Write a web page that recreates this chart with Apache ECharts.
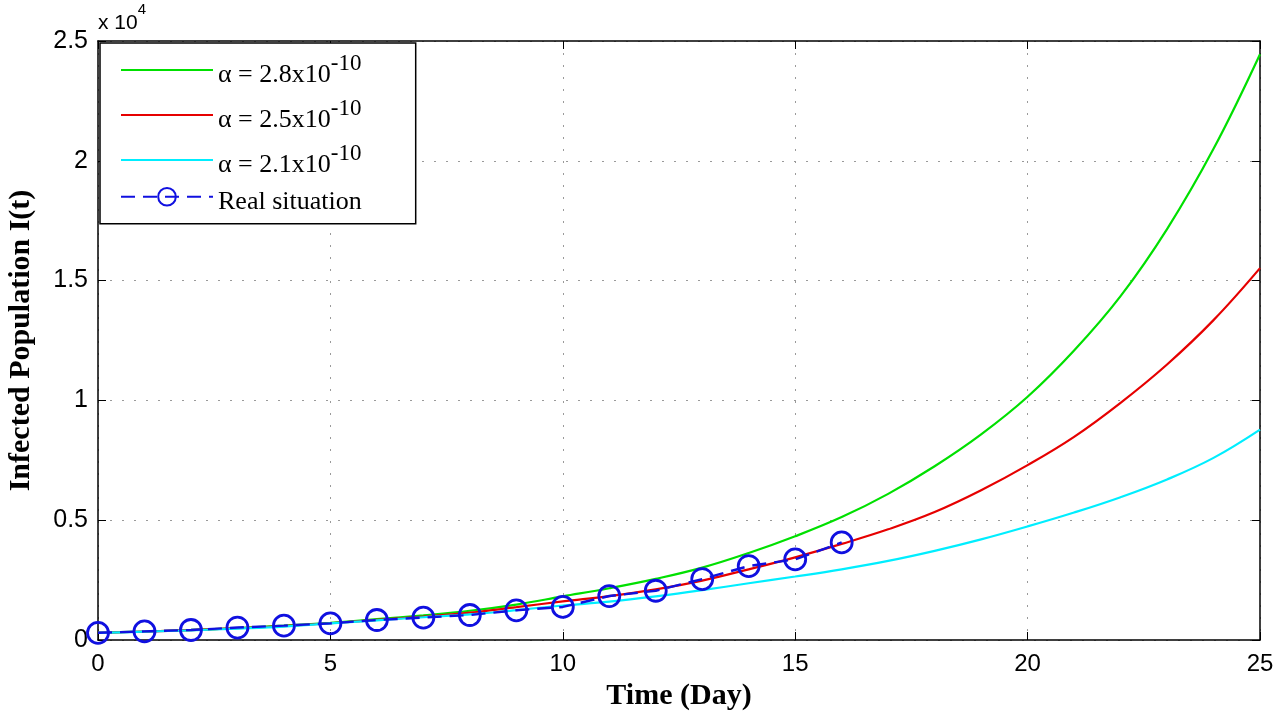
<!DOCTYPE html>
<html>
<head>
<meta charset="utf-8">
<script src="https://cdn.jsdelivr.net/npm/echarts@6/dist/echarts.min.js"></script>
<style>
html,body{margin:0;padding:0;background:#fff;}
#chart{width:1280px;height:715px;}
</style>
</head>
<body>
<div id="chart"></div>
<script>
// Days (x values)
const days = [0,1,2,3,4,5,6,7,8,9,10,11,12,13,14,15,16,17,18,19,20,21,22,23,24,25];
// Model curves (infected population)
const alpha28 = [300,355,420,500,600,720,870,1030,1220,1480,1820,2160,2550,3020,3630,4330,5130,6100,7250,8580,10150,12080,14350,17150,20500,24450];
const alpha25 = [300,352,415,490,580,700,840,980,1140,1370,1610,1830,2110,2480,2950,3450,4010,4620,5340,6250,7300,8480,9900,11500,13350,15520];
const alpha21 = [300,348,405,475,560,690,820,950,1070,1250,1440,1600,1820,2080,2370,2650,2950,3300,3720,4200,4740,5320,5960,6700,7600,8780];
// Real situation
const realDays = [0,1,2,3,4,5,6,7,8,9,10,11,12,13,14,15,16];
const realValues = [300,360,417,520,598,696,834,935,1043,1240,1380,1835,2056,2544,3086,3365,4074];
// Tick labels
const xTicks = [0,5,10,15,20,25];
const yTickLabels = ['0','0.5','1','1.5','2','2.5'];
const seriesNames = ['a28','a25','a21','Real situation'];
const legendLabels = {
  a28: '{t|α = 2.8x10}{s|-10}',
  a25: '{t|α = 2.5x10}{s|-10}',
  a21: '{t|α = 2.1x10}{s|-10}',
  'Real situation': '{t|Real situation}'
};

const pair = (xs, ys) => xs.map((x, i) => [x, ys[i]]);

const chart = echarts.init(document.getElementById('chart'), null, {renderer: 'canvas'});
const axisLineStyle = {color: '#000', width: 1.5};
const gridLine = {show: true, lineStyle: {color: '#9a9a9a', width: 1, type: [2, 10]}};

chart.setOption({
  backgroundColor: '#fff',
  animation: false,
  grid: {left: 98, right: 20, top: 41, bottom: 75, containLabel: false, outerBoundsMode: 'none'},
  xAxis: [{
    type: 'value', min: 0, max: 25, interval: 5, position: 'bottom',
    name: 'Time (Day)', nameLocation: 'middle', nameGap: 41,
    nameTextStyle: {fontFamily: 'Liberation Serif', fontWeight: 'bold', fontSize: 30, color: '#000'},
    axisLine: {show: true, onZero: false, lineStyle: axisLineStyle},
    axisTick: {show: true, inside: true, length: 8, lineStyle: {color: '#000'}},
    axisLabel: {fontFamily: 'Liberation Sans', fontSize: 24, color: '#000', margin: 12,
      formatter: v => xTicks.indexOf(v) >= 0 ? String(v) : ''},
    splitLine: gridLine
  }, {
    type: 'value', min: 0, max: 25, interval: 5, position: 'top',
    axisLine: {show: true, onZero: false, lineStyle: axisLineStyle},
    axisTick: {show: true, inside: true, length: 8, lineStyle: {color: '#000'}},
    axisLabel: {show: false}, splitLine: {show: false}
  }],
  yAxis: [{
    type: 'value', min: 0, max: 25000, interval: 5000, position: 'left',
    name: 'Infected Population I(t)', nameLocation: 'middle', nameGap: 62, nameRotate: 90,
    nameTextStyle: {fontFamily: 'Liberation Serif', fontWeight: 'bold', fontSize: 30, color: '#000'},
    axisLine: {show: true, onZero: false, lineStyle: axisLineStyle},
    axisTick: {show: true, inside: true, length: 8, lineStyle: {color: '#000'}},
    axisLabel: {fontFamily: 'Liberation Sans', fontSize: 25, color: '#000', margin: 10,
      formatter: v => yTickLabels[Math.round(v / 5000)]},
    splitLine: gridLine
  }, {
    type: 'value', min: 0, max: 25000, interval: 5000, position: 'right',
    axisLine: {show: true, onZero: false, lineStyle: axisLineStyle},
    axisTick: {show: true, inside: true, length: 8, lineStyle: {color: '#000'}},
    axisLabel: {show: false}, splitLine: {show: false}
  }],
  legend: {
    orient: 'vertical', left: 100, top: 43,
    padding: [9, 54, 9, 20],
    backgroundColor: '#fff', borderColor: '#000', borderWidth: 1.5,
    itemWidth: 92, itemHeight: 22, itemGap: 9,
    data: [
      {name: 'a28', itemStyle: {opacity: 0}},
      {name: 'a25', itemStyle: {opacity: 0}},
      {name: 'a21', itemStyle: {opacity: 0}},
      {name: 'Real situation'}
    ],
    formatter: name => legendLabels[name],
    textStyle: {
      fontFamily: 'Liberation Serif', fontSize: 26, color: '#000',
      rich: {
        t: {fontFamily: 'Liberation Serif', fontSize: 26, color: '#000', lineHeight: 36, verticalAlign: 'bottom'},
        s: {fontFamily: 'Liberation Serif', fontSize: 23, color: '#000', lineHeight: 36, verticalAlign: 'top'}
      }
    }
  },
  graphic: [{
    type: 'text', left: 98, top: 2,
    style: {
      text: '{a|x 10}{b|4}',
      rich: {
        a: {fontFamily: 'Liberation Sans', fontSize: 21, color: '#000', lineHeight: 32, verticalAlign: 'bottom'},
        b: {fontFamily: 'Liberation Sans', fontSize: 15, color: '#000', lineHeight: 32, verticalAlign: 'top'}
      }
    }
  }],
  series: [{
    name: 'a28', type: 'line', data: pair(days, alpha28), symbol: 'none', smooth: 0.4,
    lineStyle: {color: '#00e000', width: 2.2}, itemStyle: {color: '#00e000'}
  }, {
    name: 'a25', type: 'line', data: pair(days, alpha25), symbol: 'none', smooth: 0.4,
    lineStyle: {color: '#e60000', width: 2.2}, itemStyle: {color: '#e60000'}
  }, {
    name: 'a21', type: 'line', data: pair(days, alpha21), symbol: 'none', smooth: 0.4,
    lineStyle: {color: '#00eeff', width: 2.2}, itemStyle: {color: '#00eeff'}
  }, {
    name: 'Real situation', type: 'line', data: pair(realDays, realValues),
    symbol: 'circle', symbolSize: 21,
    lineStyle: {color: '#1010e0', width: 2.4, type: [14, 8]},
    itemStyle: {color: 'rgba(0,0,0,0)', borderColor: '#1010e0', borderWidth: 2.8}
  }]
});
</script>
</body>
</html>
